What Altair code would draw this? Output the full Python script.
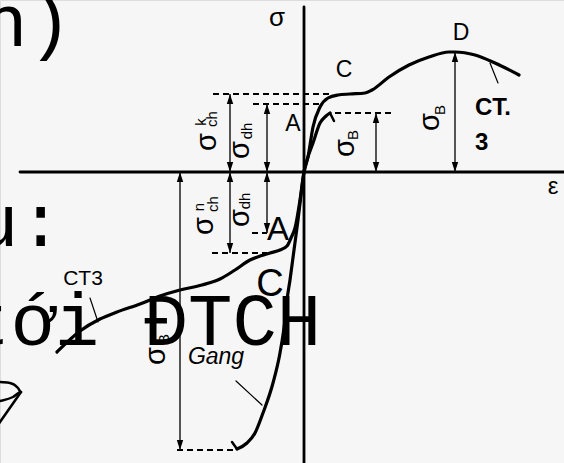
import altair as alt
import pandas as pd

# Diagram coordinates: strain ε to the right, stress σ upward, origin where the axes cross.
EPS_DOMAIN = [-304, 260]
SIG_DOMAIN = [-291, 172]

# CT3 steel: compression branch (lower left) through the origin to the tension branch (C plateau, peak D)
ct3_eps = [-247, -224, -204, -187, -164, -144, -124, -102, -84, -69, -54, -44, -34, -24, -17, -13,
           -9, -4, 0, 4, 9, 16, 24, 34, 46, 61, 68, 85, 105, 125, 145, 151, 171, 191, 215]
ct3_sig = [-180, -159, -147, -140, -132, -124, -118, -113, -107, -98, -88, -84, -81, -78, -74, -66,
           -56, -28, 0, 15, 45, 65, 74, 77, 78, 79, 82, 95, 107, 115, 120, 120, 117, 109, 97]

# Cast iron (Gang): brittle in tension, much stronger in compression
gang_eps = [-67, -57, -49, -41, -31, -24, -19, -17, -14, -10, -6, -3, 0, 3, 9, 16, 22, 26]
gang_sig = [-277, -271, -261, -241, -211, -181, -148, -128, -108, -78, -48, -23, 0, 12, 29, 49, 56, 59]

# Fracture hooks at both ends of the cast-iron curve
hook_eps = [[-72, -67], [26, 30]]
hook_sig = [[-270, -277], [59, 51]]

# σ and ε axes
axes_eps = [[-284, 260], [0, 0]]
axes_sig = [[0, 0], [165, -291]]

# Leader lines from the curve names to their curves
leader_eps = [[186, 194], [-68, -42], [-214, -206]]
leader_sig = [[109, 89], [-209, -233], [-126, -150]]

# Cone sketch at the lower left edge
cone_eps = [[-314, -304, -291, -283, -286, -294, -304, -314], [-283, -311]]
cone_sig = [[-231, -229, -225, -220, -216, -211, -210, -209], [-220, -260]]

# Dimension arrows (σ_ch, σ_dh, σ_B): position, lower and upper end
arrow_eps = [-74, -37, -74, -37, -124, 72, 151]
arrow_lo = [0, 0, -81, -61, -278, 0, 0]
arrow_hi = [78, 68, 0, 0, 0, 59, 120]

# Dashed reference levels
dash_sig = [78, 68, 59, -81, -61, -278]
dash_from = [-91, -51, 31, -92, -52, -127]
dash_to = [28, 15, 88, -37, -37, -67]

# Point names on the curves
point_text = ["A", "C", "D"]
point_eps = [-11, 40, 157]
point_sig = [48, 102, 139]
big_text = ["A", "C"]
big_eps = [-26, -34]
big_sig = [-58, -113]
big_sizes = [33, 38]

# Rotated stress symbols with their super/subscripts
rot_sigma_eps = [-97, -64, -100, -64, 41, 126, -148]
rot_sigma_sig = [30, 22, -54, -46, 24, 50, -184]
rot_sub_text = ["ch", "dh", "ch", "dh", "B", "B", "B"]
rot_sub_eps = [-92, -57, -91, -59, 49, 136, -140]
rot_sub_sig = [53, 41, -32, -29, 37, 62, -167]
rot_sup_text = ["k", "n"]
rot_sup_eps = [-103, -105]
rot_sup_sig = [50, -35]

# Slide text lines behind the diagram (baseline positions)
slide_text = ["h)", "u:", "tới ĐTCH"]
slide_eps = [-321, -330, -338]
slide_sig = [126, -74, -173]

MONO = "Courier New, Courier, Nimbus Mono PS, Nimbus Mono L, FreeMono, Liberation Mono, monospace"

X = lambda: alt.X("eps:Q", scale=alt.Scale(domain=EPS_DOMAIN, nice=False, zero=False), axis=None)
Y = lambda: alt.Y("sig:Q", scale=alt.Scale(domain=SIG_DOMAIN, nice=False, zero=False), axis=None)


def paths(list_eps, list_sig):
    rows = []
    for k, (es, ss) in enumerate(zip(list_eps, list_sig)):
        for i, (e, s) in enumerate(zip(es, ss)):
            rows.append({"eps": e, "sig": s, "id": k, "i": i})
    return pd.DataFrame(rows)


def line_layer(df, width, interpolate="linear", dash=None):
    kw = dict(color="black", strokeWidth=width, interpolate=interpolate, clip=True,
              strokeCap="round", strokeJoin="round")
    if dash:
        kw["strokeDash"] = dash
    return alt.Chart(df).mark_line(**kw).encode(
        x=X(), y=Y(), detail="id:N", order="i:Q")


def text_layer(texts, eps, sig, **kw):
    df = pd.DataFrame({"t": texts, "eps": eps, "sig": sig})
    base = dict(color="black", font="Liberation Sans")
    base.update(kw)
    return alt.Chart(df).mark_text(**base).encode(x=X(), y=Y(), text="t:N")


layers = []

# axes
layers.append(line_layer(paths(axes_eps, axes_sig), 2.8))

# stress-strain curves
layers.append(line_layer(paths([ct3_eps], [ct3_sig]), 3.2, "monotone"))
layers.append(line_layer(paths([gang_eps], [gang_sig]), 3.2, "monotone"))
layers.append(line_layer(paths(hook_eps, hook_sig), 2.5))

# leaders and cone
layers.append(line_layer(paths(leader_eps, leader_sig), 1.2))
layers.append(line_layer(paths(cone_eps, cone_sig), 2.5, "monotone"))

# dashed levels
dash_df = pd.DataFrame({"sig": dash_sig, "eps": dash_from, "eps2": dash_to})
layers.append(alt.Chart(dash_df).mark_rule(color="black", strokeWidth=1.8, strokeDash=[6, 4]).encode(
    x=X(), x2="eps2:Q", y=Y()))

# dimension arrows
arrow_df = pd.DataFrame({"eps": arrow_eps, "lo": arrow_lo, "hi": arrow_hi})
layers.append(alt.Chart(arrow_df).mark_rule(color="#111", strokeWidth=1.4).encode(
    x=X(), y=alt.Y("lo:Q", scale=alt.Scale(domain=SIG_DOMAIN, nice=False, zero=False), axis=None),
    y2="hi:Q"))
head_up = "M0,0L-0.32,1L0.32,1Z"
head_down = "M0,0L-0.32,-1L0.32,-1Z"
layers.append(alt.Chart(arrow_df).mark_point(shape=head_up, filled=True, color="black", size=400,
                                             opacity=1, strokeWidth=0).encode(
    x=X(), y=alt.Y("hi:Q", scale=alt.Scale(domain=SIG_DOMAIN, nice=False, zero=False), axis=None)))
layers.append(alt.Chart(arrow_df).mark_point(shape=head_down, filled=True, color="black", size=400,
                                             opacity=1, strokeWidth=0).encode(
    x=X(), y=alt.Y("lo:Q", scale=alt.Scale(domain=SIG_DOMAIN, nice=False, zero=False), axis=None)))

# labels
layers.append(text_layer(["σ"], [-27], [154], fontSize=26))
layers.append(text_layer(["ε"], [249], [-15], fontSize=24))
layers.append(text_layer(point_text, point_eps, point_sig, fontSize=23))
for t, e, s, fs in zip(big_text, big_eps, big_sig, big_sizes):
    layers.append(text_layer([t], [e], [s], fontSize=fs))
layers.append(text_layer(["CT.", "3"], [171, 171], [64, 29], fontSize=24, fontWeight="bold", align="left"))
layers.append(text_layer(["CT3"], [-221], [-107], fontSize=21))
layers.append(text_layer(["Gang"], [-88], [-185], fontSize=23, fontStyle="italic"))

layers.append(text_layer(["σ"] * len(rot_sigma_eps), rot_sigma_eps, rot_sigma_sig, fontSize=29, angle=270))
layers.append(text_layer(rot_sub_text, rot_sub_eps, rot_sub_sig, fontSize=15, angle=270))
layers.append(text_layer(rot_sup_text, rot_sup_eps, rot_sup_sig, fontSize=15, angle=270))

# slide text
layers.append(text_layer(slide_text, slide_eps, slide_sig, fontSize=74, font=MONO,
                         align="left", baseline="alphabetic"))

chart = alt.layer(*layers).properties(
    width=564, height=463, padding=0, autosize=alt.AutoSizeParams(type="none")
).configure_view(stroke=None).configure(background="#f6f6f6")

chart.save("out.html", embed_options={"renderer": "svg", "actions": False})
